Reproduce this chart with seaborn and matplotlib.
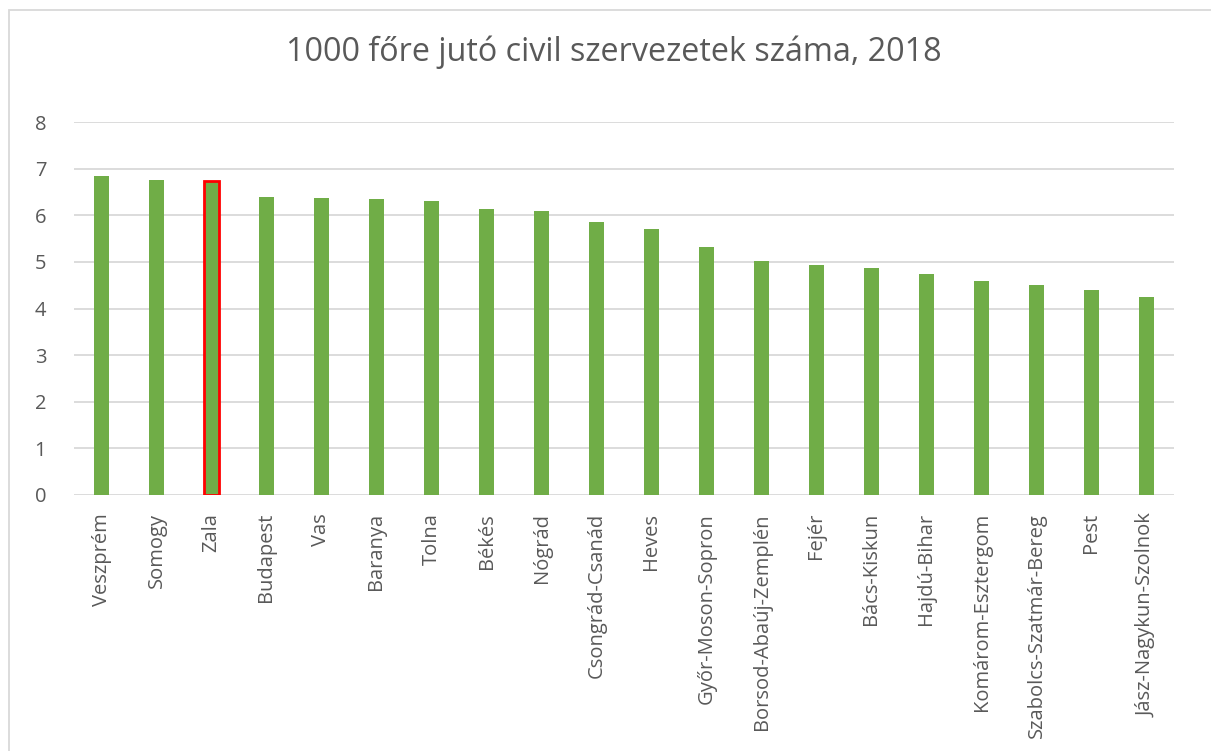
import numpy as np
import pandas as pd
import matplotlib
matplotlib.use("Agg")
import matplotlib.pyplot as plt
import matplotlib.patches as mpatches
import seaborn as sns

counties = ["Veszprém", "Somogy", "Zala", "Budapest", "Vas", "Baranya", "Tolna",
            "Békés", "Nógrád", "Csongrád-Csanád", "Heves", "Győr-Moson-Sopron",
            "Borsod-Abaúj-Zemplén", "Fejér", "Bács-Kiskun", "Hajdú-Bihar",
            "Komárom-Esztergom", "Szabolcs-Szatmár-Bereg", "Pest", "Jász-Nagykun-Szolnok"]
per_1000 = [6.85, 6.76, 6.73, 6.40, 6.36, 6.35, 6.30, 6.13, 6.09, 5.86, 5.70,
            5.32, 5.02, 4.94, 4.86, 4.75, 4.60, 4.50, 4.40, 4.24]
highlight = "Zala"
y_ticks = list(range(0, 9))

GREEN = "#70ad47"
TEXT = "#595959"
GRID = "#d9d9d9"

sns.set_style("white")
plt.rcParams["font.family"] = ["Open Sans", "DejaVu Sans"]

df = pd.DataFrame({"county": counties, "value": per_1000})

fig = plt.figure(figsize=(12.11, 7.51), dpi=100)
ax = fig.add_axes([74 / 1211, 1 - 495 / 751, 1100 / 1211, 373 / 751])

sns.barplot(data=df, x="county", y="value", color=GREEN, saturation=1,
            width=0.27, ax=ax, zorder=3)

# red outline on the highlighted county
for patch, name in zip(ax.patches, counties):
    patch.set_linewidth(0)
    if name == highlight:
        patch.set_edgecolor("#ff0000")
        patch.set_linewidth(2)

ax.set_ylim(0, 8)
ax.set_yticks(y_ticks)
ax.set_xlim(-0.5, len(counties) - 0.5)
ax.yaxis.grid(True, color=GRID, linewidth=1.3, zorder=0)
ax.set_axisbelow(True)
for s in ax.spines.values():
    s.set_visible(False)
ax.tick_params(axis="both", length=0, colors=TEXT, labelsize=14.5)
ax.tick_params(axis="y", pad=20)
ax.tick_params(axis="x", pad=13)
plt.setp(ax.get_xticklabels(), rotation=90, ha="center", va="top")
ax.set_xlabel("")
ax.set_ylabel("")

fig.text(614 / 1211, 1 - 52 / 751, "1000 főre jutó civil szervezetek száma, 2018",
         ha="center", va="center", fontsize=23.3, color=TEXT)

# chart frame
fig.patches.append(mpatches.Rectangle((9 / 1211, -0.1), 1.2, 1 - 10 / 751 + 0.1,
                                      transform=fig.transFigure, fill=False,
                                      edgecolor=GRID, linewidth=1.3, zorder=0))

fig.savefig("out.png", dpi=100)
